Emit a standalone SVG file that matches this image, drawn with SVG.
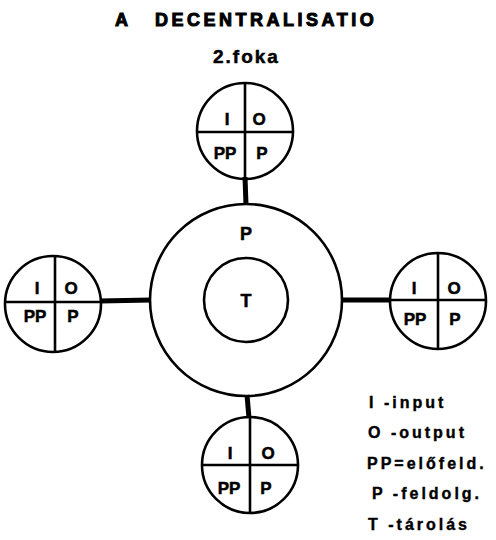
<svg xmlns="http://www.w3.org/2000/svg" width="496" height="540" viewBox="0 0 496 540">
<style>
  .ln{fill:none;stroke:#000;stroke-width:2.6}
  .cn{stroke:#000;stroke-width:5;fill:none}
  text{font-family:"Liberation Sans",Arial,sans-serif;font-weight:bold;fill:#000;stroke:#000}
  .q{font-size:17px;text-anchor:middle;stroke-width:0.5}
  .c{font-size:18px;text-anchor:middle;stroke-width:0.5}
  .t{font-size:18px;letter-spacing:3.5px;stroke-width:1}
  .s{font-size:19px;letter-spacing:2px;stroke-width:0.5}
  .l{font-size:16px;letter-spacing:3px;stroke-width:0.4}
</style>
<rect width="496" height="540" fill="#fff"/>
<g id="title">
  <text class="t" x="115" y="26">A</text>
  <text class="t" x="155" y="26">DECENTRALISATIO</text>
  <text class="s" x="213" y="63">2.foka</text>
</g>
<g id="connectors">
  <line class="cn" x1="245" y1="177" x2="246" y2="205"/>
  <line class="cn" x1="100" y1="301" x2="151" y2="300"/>
  <line class="cn" x1="341" y1="300" x2="390" y2="300"/>
  <line class="cn" x1="247" y1="395" x2="249" y2="418"/>
</g>
<g id="center">
  <circle class="ln" cx="246" cy="300" r="96"/>
  <text class="c" x="246" y="240">P</text>
</g>
<g id="storage">
  <circle class="ln" cx="246" cy="300" r="42"/>
  <text class="c" x="246" y="307">T</text>
</g>
<g id="node-top">
  <circle class="ln" cx="245" cy="131" r="48"/>
  <line class="ln" x1="197" y1="132" x2="293" y2="132"/>
  <line class="ln" x1="245" y1="83" x2="245" y2="179"/>
  <text class="q" x="227" y="125">I</text>
  <text class="q" x="259" y="125">O</text>
  <text class="q" x="225" y="159">PP</text>
  <text class="q" x="262" y="159">P</text>
</g>
<g id="node-left">
  <circle class="ln" cx="53" cy="304" r="48"/>
  <line class="ln" x1="5" y1="302" x2="101" y2="302"/>
  <line class="ln" x1="55" y1="256" x2="55" y2="352"/>
  <text class="q" x="37" y="294">I</text>
  <text class="q" x="71" y="294">O</text>
  <text class="q" x="35" y="322">PP</text>
  <text class="q" x="73" y="322">P</text>
</g>
<g id="node-right">
  <circle class="ln" cx="438" cy="301" r="48"/>
  <line class="ln" x1="390" y1="300" x2="486" y2="300"/>
  <line class="ln" x1="438" y1="253" x2="438" y2="349"/>
  <text class="q" x="414" y="294">I</text>
  <text class="q" x="454" y="294">O</text>
  <text class="q" x="415" y="325">PP</text>
  <text class="q" x="455" y="325">P</text>
</g>
<g id="node-bottom">
  <circle class="ln" cx="250" cy="465" r="48"/>
  <line class="ln" x1="202" y1="465" x2="298" y2="465"/>
  <line class="ln" x1="250" y1="417" x2="250" y2="513"/>
  <text class="q" x="230" y="459">I</text>
  <text class="q" x="268" y="459">O</text>
  <text class="q" x="229" y="494">PP</text>
  <text class="q" x="266" y="494">P</text>
</g>
<g id="legend">
  <text class="l" x="369" y="408">I -input</text>
  <text class="l" x="368" y="438">O -output</text>
  <text class="l" x="367" y="469">PP=előfeld.</text>
  <text class="l" x="372" y="499">P -feldolg.</text>
  <text class="l" x="368" y="530">T -tárolás</text>
</g>
</svg>
